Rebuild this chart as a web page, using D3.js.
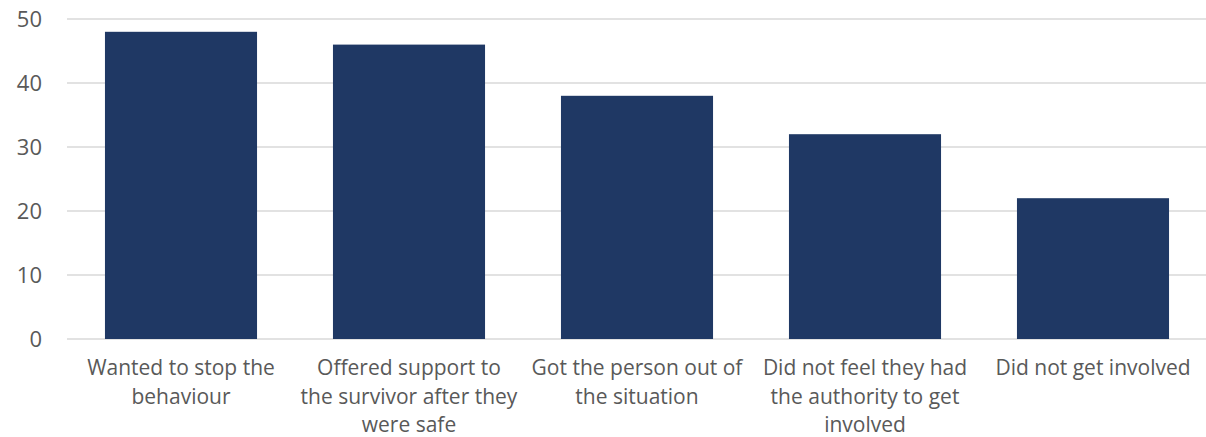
<!DOCTYPE html>
<html><head><meta charset="utf-8">
<script src="https://cdn.jsdelivr.net/npm/d3@7"></script>
<style>body{margin:0;background:#fff}</style>
</head><body>
<svg id="c" width="1206" height="437"></svg>
<script>
const categories = ["Wanted to stop the behaviour","Offered support to the survivor after they were safe","Got the person out of the situation","Did not feel they had the authority to get involved","Did not get involved"];
const labelLines = [["Wanted to stop the","behaviour"],["Offered support to","the survivor after they","were safe"],["Got the person out of","the situation"],["Did not feel they had","the authority to get","involved"],["Did not get involved"]];
const values = [48,46,38,32,22];
const yTicks = [0,10,20,30,40,50];

const svg = d3.select("#c");
const x = d3.scaleBand().domain(categories).range([67,1207]).paddingInner(0.333).paddingOuter(0.1665);
const y = d3.scaleLinear().domain([0,50]).range([339,19]);
const font = "'Open Sans', 'Liberation Sans', Arial, sans-serif";
const grey = "#595959";

svg.append("g").selectAll("line").data(yTicks).join("line")
  .attr("x1",67).attr("x2",1206).attr("y1",d=>y(d)).attr("y2",d=>y(d))
  .attr("stroke","#d9d9d9").attr("stroke-width",1.3);

svg.append("g").selectAll("text").data(yTicks).join("text")
  .attr("x",42).attr("y",d=>y(d)).attr("dy","0.36em").attr("text-anchor","end")
  .attr("font-family",font).attr("font-size",22).attr("fill",grey).text(d=>d);

svg.append("g").selectAll("rect").data(values).join("rect")
  .attr("x",(d,i)=>x(categories[i])).attr("width",x.bandwidth())
  .attr("y",d=>y(d)).attr("height",d=>y(0)-y(d)).attr("fill","#1f3864");

const lab = svg.append("g").selectAll("text").data(categories).join("text")
  .attr("x",d=>x(d)+x.bandwidth()/2).attr("text-anchor","middle")
  .attr("font-family",font).attr("font-size",21).attr("fill",grey);
lab.each(function(d,i){
  d3.select(this).selectAll("tspan").data(labelLines[i]).join("tspan")
    .attr("x",x(d)+x.bandwidth()/2).attr("y",(t,j)=>375+j*28.5).text(t=>t);
});
</script>
</body></html>
